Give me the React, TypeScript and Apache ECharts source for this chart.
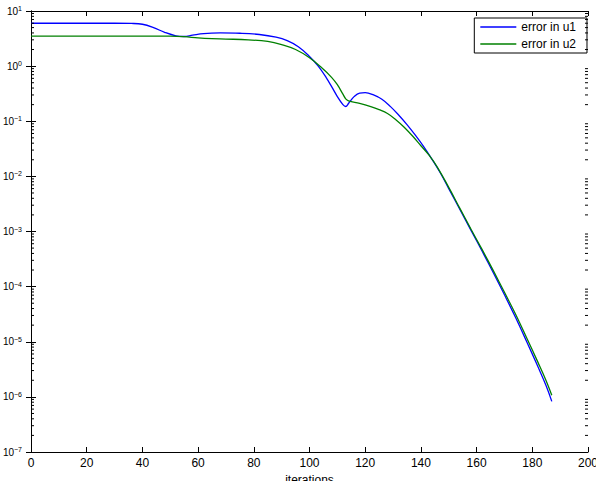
import React, { useEffect, useRef } from "react";
import * as echarts from "echarts";

const iterU1 = [0, 10, 20, 30, 36, 40, 44, 48, 52, 55, 58, 62, 68, 75, 82, 88, 92, 96, 100, 103, 106, 108, 110, 112, 113, 114, 116, 118, 120, 123, 126, 129, 132, 135, 138, 141, 144, 147, 150, 154, 158, 162, 166, 170, 174, 178, 182, 185, 187];
const errU1 = [6.0, 6.0, 6.0, 6.0, 5.95, 5.75, 5.0, 4.1, 3.55, 3.45, 3.65, 3.9, 4.0, 3.95, 3.75, 3.35, 2.9, 2.25, 1.5, 1.02, 0.62, 0.42, 0.28, 0.2, 0.185, 0.21, 0.28, 0.325, 0.33, 0.3, 0.25, 0.186, 0.13, 0.087, 0.056, 0.0347, 0.0204, 0.0115, 0.006, 0.00251, 0.00105, 4.37e-4, 1.78e-4, 7.1e-5, 2.75e-5, 1.0e-5, 3.55e-6, 1.58e-6, 8.3e-7];

const iterU2 = [0, 20, 40, 50, 55, 60, 65, 70, 78, 85, 90, 95, 100, 104, 108, 110, 112, 113, 114, 118, 122, 125, 128, 131, 134, 137, 140, 143, 146, 150, 154, 158, 162, 166, 170, 174, 178, 182, 185, 187];
const errU2 = [3.5, 3.5, 3.5, 3.5, 3.42, 3.25, 3.15, 3.1, 3.0, 2.8, 2.45, 2.0, 1.42, 0.97, 0.62, 0.46, 0.31, 0.255, 0.235, 0.211, 0.184, 0.162, 0.138, 0.107, 0.078, 0.054, 0.036, 0.024, 0.01445, 0.0063, 0.00263, 0.0011, 4.68e-4, 1.95e-4, 7.9e-5, 3.16e-5, 1.17e-5, 4.27e-6, 1.95e-6, 1.07e-6];

const seriesNames = ["error in u1", "error in u2"];
const seriesColors = ["#0000ff", "#008000"];
const xMin = 0;
const xMax = 200;
const xInterval = 20;
const yMin = 1e-7;
const yMax = 10;
const xName = "iterations";

const minorTickValues: number[] = [];
for (let d = -7; d < 1; d++) {
  for (let k = 2; k <= 9; k++) minorTickValues.push(k * Math.pow(10, d));
}

const FONT = "'Liberation Sans', Arial, Helvetica, sans-serif";

export default function App() {
  const ref = useRef<HTMLDivElement>(null);
  useEffect(() => {
    if (!ref.current) return;
    const chart = echarts.init(ref.current, undefined, { renderer: "svg" });
    const axisLine = { show: true, lineStyle: { color: "#000", width: 1 } };
    chart.setOption({
      animation: false,
      textStyle: { fontFamily: FONT },
      grid: { left: 31, right: 8, top: 11, bottom: 29, containLabel: false, outerBoundsMode: "none" },
      legend: {
        data: seriesNames,
        orient: "vertical",
        right: 9,
        top: 18,
        icon: "rect",
        itemWidth: 36,
        itemHeight: 1.5,
        itemGap: 3,
        itemTextGap: 5,
        padding: [2, 11, 2, 6],
        borderColor: "#000",
        borderWidth: 1,
        backgroundColor: "#fff",
        textStyle: { fontSize: 12, color: "#000", fontFamily: FONT, lineHeight: 14 },
      },
      xAxis: [
        {
          type: "value",
          min: xMin,
          max: xMax,
          interval: xInterval,
          position: "bottom",
          name: xName,
          nameLocation: "middle",
          nameGap: 21,
          nameTextStyle: { fontSize: 12, color: "#000", fontFamily: FONT },
          axisLine,
          axisTick: { inside: true, length: 5, lineStyle: { color: "#000" } },
          axisLabel: { fontSize: 12, color: "#000", margin: 5, fontFamily: FONT },
          splitLine: { show: false },
        },
        {
          type: "value",
          min: xMin,
          max: xMax,
          interval: xInterval,
          position: "top",
          axisLine,
          axisTick: { inside: true, length: 5, lineStyle: { color: "#000" } },
          axisLabel: { show: false },
          splitLine: { show: false },
        },
      ],
      yAxis: [
        {
          type: "log",
          logBase: 10,
          min: yMin,
          max: yMax,
          position: "left",
          axisLine,
          axisTick: { inside: true, length: 5, lineStyle: { color: "#000" } },
          axisLabel: {
            margin: 9,
            color: "#000",
            formatter: (v: number) => {
              const e = Math.round(Math.log10(v));
              const s = e < 0 ? "\u2212" + -e : String(e);
              return `{b|10}{s|${s}}`;
            },
            rich: {
              b: { fontSize: 10, fontFamily: FONT, color: "#000", lineHeight: 12 },
              s: { fontSize: 7, fontFamily: FONT, color: "#000", verticalAlign: "top", lineHeight: 7 },
            },
          },
          splitLine: { show: false },
        },
        {
          type: "log",
          logBase: 10,
          min: yMin,
          max: yMax,
          position: "right",
          axisLine,
          axisTick: { inside: true, length: 5, lineStyle: { color: "#000" } },
          axisLabel: { show: false },
          splitLine: { show: false },
        },
      ],
      series: [
        {
          name: seriesNames[0],
          type: "line",
          data: iterU1.map((x, i) => [x, errU1[i]]),
          symbol: "none",
          smooth: 0.4,
          lineStyle: { color: seriesColors[0], width: 1.3 },
          itemStyle: { color: seriesColors[0] },
          z: 3,
        },
        {
          name: seriesNames[1],
          type: "line",
          data: iterU2.map((x, i) => [x, errU2[i]]),
          symbol: "none",
          smooth: 0.4,
          lineStyle: { color: seriesColors[1], width: 1.3 },
          itemStyle: { color: seriesColors[1] },
          z: 4,
        },
        {
          type: "custom",
          silent: true,
          clip: false,
          data: minorTickValues.map((v) => [xMin, v]),
          renderItem: (_params: any, api: any) => {
            const v = api.value(1);
            const l = api.coord([xMin, v]);
            const r = api.coord([xMax, v]);
            return {
              type: "group",
              children: [
                { type: "line", shape: { x1: l[0], y1: l[1], x2: l[0] + 3, y2: l[1] }, style: { stroke: "#000", lineWidth: 1 } },
                { type: "line", shape: { x1: r[0] - 3, y1: r[1], x2: r[0], y2: r[1] }, style: { stroke: "#000", lineWidth: 1 } },
              ],
            };
          },
          z: 5,
        },
      ],
    });
    return () => chart.dispose();
  }, []);
  return (
    <div
      ref={ref}
      style={{ position: "fixed", left: 0, top: 0, width: 596, height: 481, background: "#fff" }}
    />
  );
}
